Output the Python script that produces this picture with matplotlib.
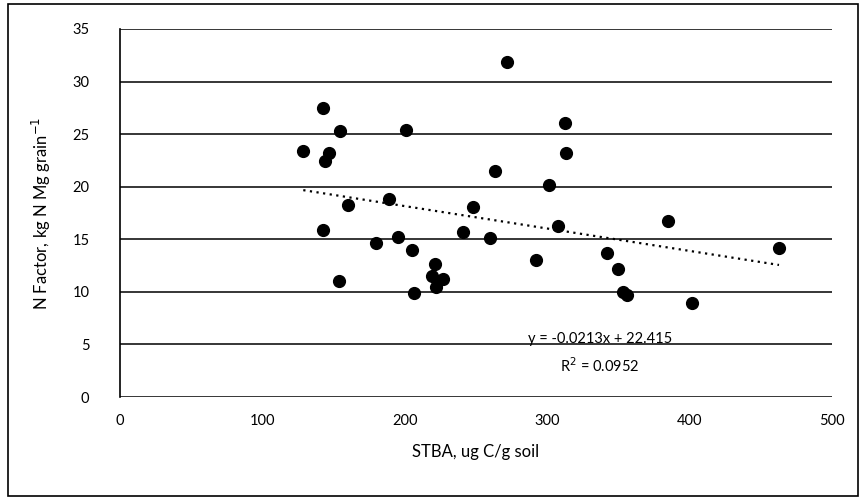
import matplotlib
matplotlib.use("Agg")
import matplotlib.pyplot as plt
from matplotlib.patches import Rectangle
import numpy as np

plt.rcParams['font.family'] = ['Lato', 'DejaVu Sans']

# STBA (ug C/g soil) vs N factor (kg N / Mg grain)
stba = [128.7, 142.6, 154.5, 200.8, 146.8, 144.0, 160.4, 189.0, 248.0, 142.6,
        195.0, 240.6, 179.8, 205.0, 153.8, 221.0, 219.0, 226.5, 222.0, 206.6,
        271.8, 312.5, 313.0, 263.0, 301.0, 307.5, 260.0, 292.0, 342.0, 350.0,
        353.0, 356.0, 401.7, 385.0, 462.8]
n_factor = [23.4, 27.5, 25.3, 25.4, 23.2, 22.4, 18.3, 18.8, 18.1, 15.9,
            15.2, 15.7, 14.65, 14.0, 11.0, 12.65, 11.5, 11.2, 10.5, 9.9,
            31.9, 26.1, 23.2, 21.5, 20.2, 16.3, 15.1, 13.0, 13.7, 12.2,
            10.0, 9.7, 8.9, 16.75, 14.2]

# trendline from the chart's equation
slope = -0.0213
intercept = 22.415
r2 = 0.0952

fig = plt.figure(figsize=(8.66, 4.99), dpi=100)
ax = fig.add_axes([0.1386, 0.2044, 0.8221, 0.7375])

ax.scatter(stba, n_factor, s=72, color='black', zorder=3)

xs = np.array([min(stba), max(stba)])
ax.plot(xs, slope * xs + intercept, color='black', linestyle=(0, (1, 2)),
        linewidth=1.6, zorder=2)

ax.text(337, 5.5, "y = -0.0213x + 22.415", ha='center', va='center', fontsize=10.5)
ax.text(337, 3.0, "R$^2$ = 0.0952", ha='center', va='center', fontsize=10.5)

ax.set_xlim(0, 500)
ax.set_ylim(0, 35)
ax.set_xticks([0, 100, 200, 300, 400, 500])
ax.set_yticks(range(0, 36, 5))
ax.yaxis.grid(True, color='black', linewidth=1.1)
ax.set_axisbelow(True)
for s in ['top', 'right', 'bottom']:
    ax.spines[s].set_visible(False)
ax.spines['left'].set_linewidth(1.2)
ax.tick_params(axis='both', length=0, labelsize=10.5, pad=12)
ax.tick_params(axis='y', pad=22)

ax.set_xlabel("STBA, ug C/g soil", fontsize=12, labelpad=12)
ax.set_ylabel("N Factor, kg N Mg grain$^{-1}$", fontsize=12, labelpad=14)

fig.patches.append(Rectangle((8 / 866, 3 / 499), 850 / 866, 492 / 499,
                             transform=fig.transFigure, fill=False,
                             edgecolor='black', linewidth=1.2))

fig.savefig("out.png", dpi=100)
